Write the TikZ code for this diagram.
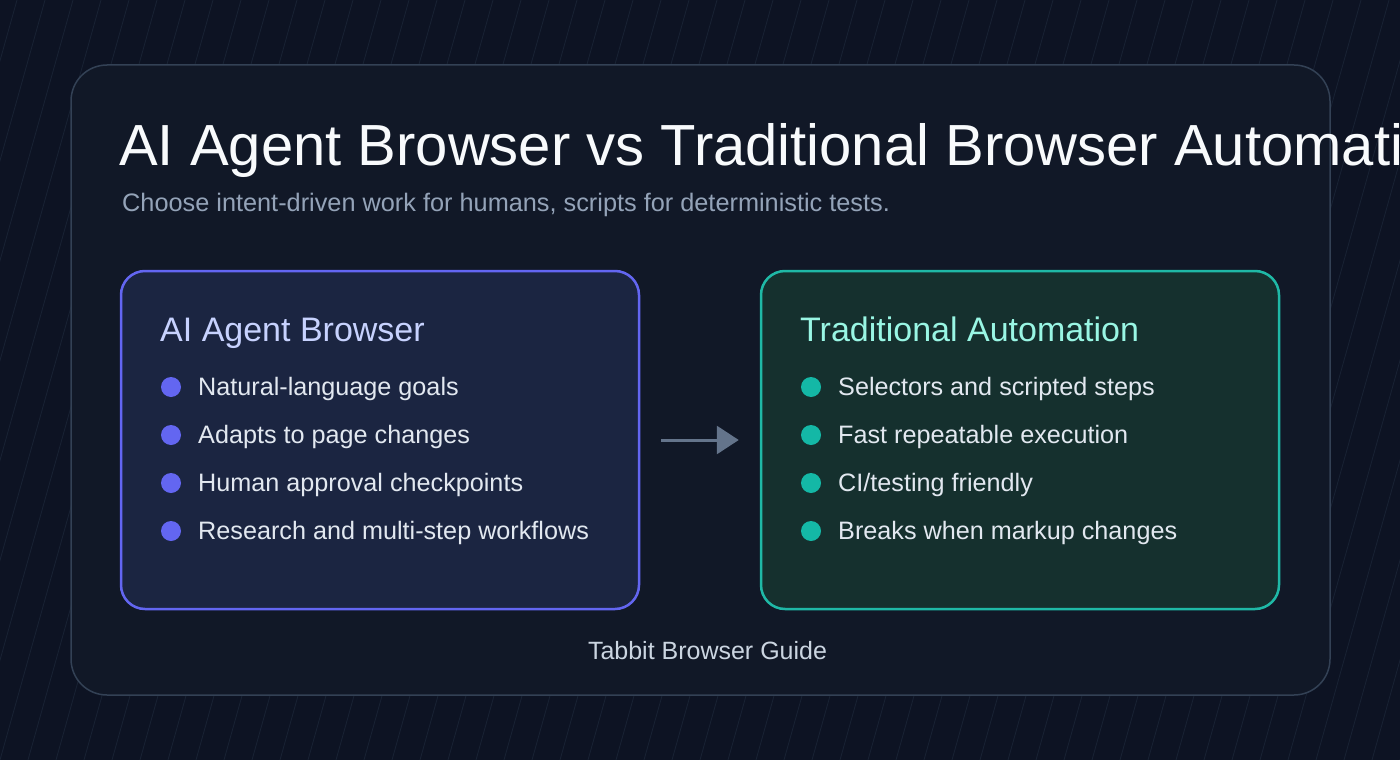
\documentclass[tikz,border=0pt]{standalone}
\usepackage{fontspec}
\setmainfont{Liberation Sans}
\usetikzlibrary{arrows.meta}
\definecolor{bgc}{HTML}{0D1323}
\definecolor{cardc}{HTML}{111827}
\definecolor{cardborder}{HTML}{334155}
\definecolor{bgline}{HTML}{1E293B}
\definecolor{titlec}{HTML}{F8FAFC}
\definecolor{subc}{HTML}{94A3B8}
\definecolor{leftfill}{HTML}{1B2541}
\definecolor{leftborder}{HTML}{6366F1}
\definecolor{leftbullet}{HTML}{6366F1}
\definecolor{lefthead}{HTML}{C7D2FE}
\definecolor{rightfill}{HTML}{15302E}
\definecolor{rightborder}{HTML}{1FB8A6}
\definecolor{rightbullet}{HTML}{14B8A6}
\definecolor{righthead}{HTML}{99F6E4}
\definecolor{itemc}{HTML}{E2E8F0}
\definecolor{arrowc}{HTML}{64748B}
\definecolor{footc}{HTML}{CBD5E1}
\tikzset{
  panel/.style={draw, line width=2.5pt, rounded corners=24pt, minimum width=518pt, minimum height=338pt, inner sep=0pt},
  bulletdot/.style={circle, fill=#1, minimum size=20pt, inner sep=0pt},
  itemtext/.style={anchor=base west, inner sep=0pt, text=itemc, font=\fontsize{25.2}{30}\selectfont},
  headtext/.style={anchor=base west, inner sep=0pt, font=\fontsize{34}{40}\selectfont},
  linkarrow/.style={draw=arrowc, line width=3pt, -{Triangle[length=22pt,width=28pt]}, shorten <=21pt, shorten >=21pt}
}
\begin{document}
\begin{tikzpicture}[x=1pt,y=-1pt]
\useasboundingbox (0,0) rectangle (1400,760);
\clip (0,0) rectangle (1400,760);
\fill[bgc] (0,0) rectangle (1400,760);
% faint diagonal background lines
\foreach \i in {-8,...,50} {
  \draw[bgline, line width=0.8pt, opacity=0.7] ({\i*28},760) -- ({\i*28+213},0);
}
% card
\node[draw=cardborder, fill=cardc, line width=1.5pt, rounded corners=36pt, minimum width=1259pt, minimum height=630pt, inner sep=0pt] (card) at (700.5,380) {};
% title
\node[anchor=base west, inner sep=0pt, text=titlec, font=\fontsize{58}{64}\selectfont] (title) at (119,165) {AI Agent Browser vs Traditional Browser Automation};
\node[anchor=base west, inner sep=0pt, text=subc, font=\fontsize{25.3}{30}\selectfont] (subtitle) at (122,211) {Choose intent-driven work for humans, scripts for deterministic tests.};
% panels
\node[panel, draw=leftborder, fill=leftfill] (left) at (380,440) {};
\node[panel, draw=rightborder, fill=rightfill] (right) at (1020,440) {};
% headings
\node[headtext, text=lefthead] (lh) at (160,341) {AI Agent Browser};
\node[headtext, text=righthead] (rh) at (800,341) {Traditional Automation};
% left items
\node[bulletdot=leftbullet] (lb1) at (171,387) {};
\node[bulletdot=leftbullet] (lb2) at (171,435) {};
\node[bulletdot=leftbullet] (lb3) at (171,483) {};
\node[bulletdot=leftbullet] (lb4) at (171,531) {};
\node[itemtext] (lt1) at (198,395.5) {Natural-language goals};
\node[itemtext] (lt2) at (198,443.5) {Adapts to page changes};
\node[itemtext] (lt3) at (198,491.5) {Human approval checkpoints};
\node[itemtext] (lt4) at (198,539.5) {Research and multi-step workflows};
% right items
\node[bulletdot=rightbullet] (rb1) at (811,387) {};
\node[bulletdot=rightbullet] (rb2) at (811,435) {};
\node[bulletdot=rightbullet] (rb3) at (811,483) {};
\node[bulletdot=rightbullet] (rb4) at (811,531) {};
\node[itemtext] (rt1) at (838,395.5) {Selectors and scripted steps};
\node[itemtext] (rt2) at (838,443.5) {Fast repeatable execution};
\node[itemtext] (rt3) at (838,491.5) {CI/testing friendly};
\node[itemtext] (rt4) at (838,539.5) {Breaks when markup changes};
% arrow
\draw[linkarrow] (left.east) -- (right.west);
% footer
\node[anchor=base, inner sep=0pt, text=footc, font=\fontsize{25}{30}\selectfont] (foot) at (707.5,659) {Tabbit Browser Guide};
\end{tikzpicture}
\end{document}
